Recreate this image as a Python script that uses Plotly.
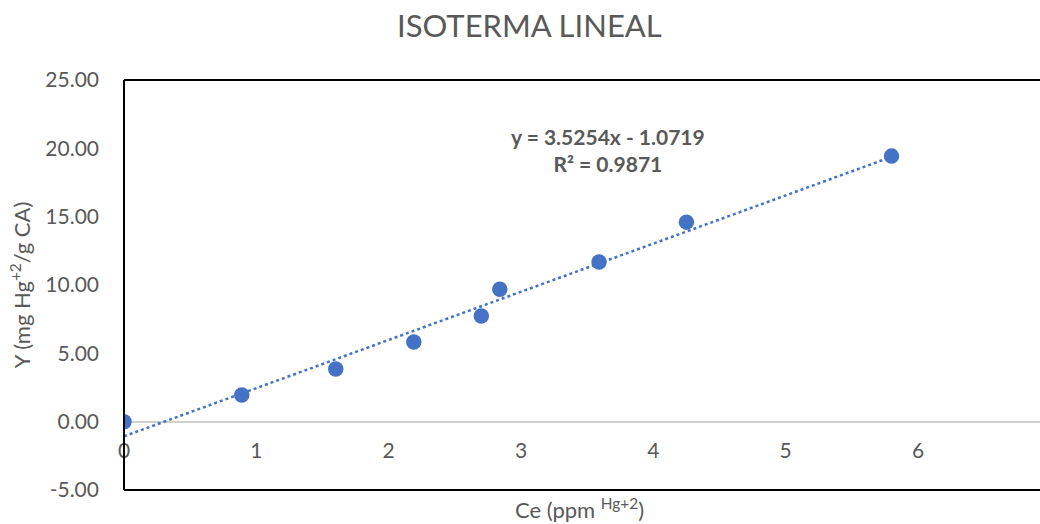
import plotly.graph_objects as go

ce = [0.0, 0.89, 1.6, 2.19, 2.7, 2.84, 3.59, 4.25, 5.8]
q = [0.0, 1.95, 3.86, 5.83, 7.73, 9.69, 11.68, 14.6, 19.43]
slope = 3.5254
intercept = -1.0719
r2 = 0.9871
trend_x = [0.0, 5.8]
x_ticks = [0, 1, 2, 3, 4, 5, 6]
y_ticks = [-5, 0, 5, 10, 15, 20, 25]

blue = "#4472C4"
grey = "#595959"
font = "Lato"

fig = go.Figure()
fig.add_trace(go.Scatter(
    x=trend_x, y=[slope * v + intercept for v in trend_x], mode="lines",
    line=dict(color=blue, width=2.5, dash="dot"), showlegend=False, hoverinfo="skip"))
fig.add_trace(go.Scatter(
    x=ce, y=q, mode="markers",
    marker=dict(color=blue, size=15.5), showlegend=False))

fig.update_layout(
    width=1040, height=524,
    margin=dict(l=124, r=0, t=80, b=34),
    paper_bgcolor="white", plot_bgcolor="white",
    font=dict(family=font, color=grey, size=20),
    title=dict(text="ISOTERMA LINEAL", x=0.509, xanchor="center", xref="container",
               y=0.95, yanchor="middle", font=dict(size=31, color=grey)),
    xaxis=dict(range=[0, 6.922], tickvals=x_ticks, ticktext=[str(t) for t in x_ticks],
               showgrid=False, zeroline=False, showline=False, ticks="",
               anchor="free", position=5/30, ticklabelstandoff=14,
               tickfont=dict(size=21, color=grey)),
    yaxis=dict(range=[-5, 25], tickvals=y_ticks, ticktext=[f"{t:.2f}" for t in y_ticks],
               showgrid=False, zeroline=True, zerolinecolor="#d0d0d0", zerolinewidth=2,
               showline=False, ticks="", ticklabelstandoff=24,
               tickfont=dict(size=21, color=grey),
               title=dict(text="Y (mg Hg<sup>+2</sup>/g CA)", standoff=8,
                          font=dict(size=22, color=grey))),
    shapes=[
        dict(type="line", xref="paper", yref="paper", x0=0, x1=0, y0=0, y1=1,
             line=dict(color="black", width=2)),
        dict(type="line", xref="paper", yref="paper", x0=0, x1=1, y0=1, y1=1,
             line=dict(color="black", width=2)),
        dict(type="line", xref="paper", yref="paper", x0=0, x1=1, y0=0, y1=0,
             line=dict(color="black", width=2)),
    ],
    annotations=[
        dict(text=f"<b>y = {slope}x - {abs(intercept)}</b><br><b>R² = {r2}</b>",
             x=3.66, y=19.9, xref="x", yref="y", showarrow=False,
             font=dict(size=21, color=grey), align="center"),
        dict(text="Ce (ppm <sup>Hg+2</sup>)", x=0.497, y=-0.046, xref="paper", yref="paper",
             xanchor="center", yanchor="middle", showarrow=False,
             font=dict(size=22, color=grey)),
    ],
)

fig.write_html("out.html")
